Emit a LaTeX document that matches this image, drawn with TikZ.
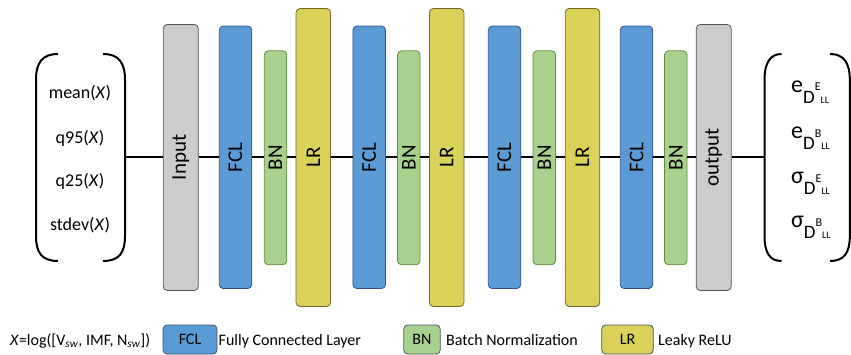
\documentclass[tikz,border=0pt]{standalone}
\usepackage{fontspec}
\setmainfont{Carlito}
\definecolor{iofill}{HTML}{CCCCCC}
\definecolor{ioline}{HTML}{555555}
\definecolor{fclfill}{HTML}{5B9BD5}
\definecolor{fclline}{HTML}{2F528F}
\definecolor{bnfill}{HTML}{A9D18E}
\definecolor{bnline}{HTML}{5E8C45}
\definecolor{lrfill}{HTML}{D9D158}
\definecolor{lrline}{HTML}{6F6A2C}
\definecolor{keyline}{HTML}{44546A}
% output label: symbol with subscript D^{sup} followed by LL
\newcommand\outsym[2]{{\fontsize{24}{24}\selectfont #1}\raisebox{-10.6pt}{\fontsize{19}{19}\selectfont D\raisebox{12.3pt}{\fontsize{12}{12}\selectfont #2}\fontsize{10}{10}\selectfont LL}}
\begin{document}
\begin{tikzpicture}[x=1pt,y=-1pt,
  layer/.style={draw, rounded corners=4pt, line width=0.8pt, inner sep=0pt,
    font=\fontsize{21}{21}\selectfont},
  iobox/.style={layer, fill=iofill, draw=ioline, minimum width=35pt, minimum height=266pt},
  fclbox/.style={layer, fill=fclfill, draw=fclline, minimum width=32.5pt, minimum height=262.5pt},
  bnbox/.style={layer, fill=bnfill, draw=bnline, minimum width=22.5pt, minimum height=214pt},
  lrbox/.style={layer, fill=lrfill, draw=lrline, minimum width=34.5pt, minimum height=298pt},
  link/.style={line width=2pt},
  brk/.style={line width=2pt},
  feat/.style={inner sep=0pt, font=\fontsize{18}{18}\selectfont},
  outl/.style={inner sep=0pt, anchor=base west},
  keybox/.style={draw=keyline, rounded corners=4pt, line width=0.8pt, inner sep=0pt,
    minimum height=29pt, font=\fontsize{16}{16}\selectfont},
  keytext/.style={inner sep=0pt, anchor=base west, font=\fontsize{16}{16}\selectfont}]
\useasboundingbox (0,0) rectangle (851,355);

% input statistics in parentheses
\draw[brk] (58,54) .. controls (42,54) and (36,63) .. (36,80) -- (36,236)
  .. controls (36,253) and (42,261) .. (58,261);
\draw[brk] (103,54) .. controls (119,54) and (125,63) .. (125,80) -- (125,236)
  .. controls (125,253) and (119,261) .. (103,261);
\node[feat] (f1) at (80,93) {mean(\textit{X})};
\node[feat] (f2) at (80,138) {q95(\textit{X})};
\node[feat] (f3) at (80,181.5) {q25(\textit{X})};
\node[feat] (f4) at (80,225) {stdev(\textit{X})};
\coordinate (lb) at (125,157);

% output quantities in parentheses
\draw[brk] (781.5,54) .. controls (770,54) and (764.5,63) .. (764.5,80) -- (764.5,236)
  .. controls (764.5,253) and (770,261) .. (781.5,261);
\draw[brk] (830,54) .. controls (844,54) and (849.8,63) .. (849.8,80) -- (849.8,236)
  .. controls (849.8,253) and (844,261) .. (830,261);
\node[outl] (o1) at (791,92.7) {\outsym{e}{E}};
\node[outl] (o2) at (791,139) {\outsym{e}{B}};
\node[outl] (o3) at (791,184) {\outsym{σ}{E}};
\node[outl] (o4) at (791,228) {\outsym{σ}{B}};
\coordinate (rb) at (764.5,157);

% network layers
\node[iobox]  (in)   at (180.8,157.5) {\rotatebox{90}{Input}};
\node[fclbox] (fcl1) at (235.5,157.3) {\rotatebox{90}{FCL}};
\node[bnbox]  (bn1)  at (275.5,157.8) {\rotatebox{90}{BN}};
\node[lrbox]  (lr1)  at (313.3,157.5) {\rotatebox{90}{LR}};
\node[fclbox] (fcl2) at (369.2,157.3) {\rotatebox{90}{FCL}};
\node[bnbox]  (bn2)  at (408.8,157.8) {\rotatebox{90}{BN}};
\node[lrbox]  (lr2)  at (446.7,157.5) {\rotatebox{90}{LR}};
\node[fclbox] (fcl3) at (504.5,157.3) {\rotatebox{90}{FCL}};
\node[bnbox]  (bn3)  at (544.3,157.8) {\rotatebox{90}{BN}};
\node[lrbox]  (lr3)  at (582.5,157.5) {\rotatebox{90}{LR}};
\node[fclbox] (fcl4) at (636.5,157.3) {\rotatebox{90}{FCL}};
\node[bnbox]  (bn4)  at (675.8,157.8) {\rotatebox{90}{BN}};
\node[iobox]  (out)  at (713.7,157.5) {\rotatebox{90}{output}};

% connections along the chain
\draw[link] (lb) -- (lb -| in.west);
\draw[link] (in.east |- lb) -- (fcl1.west |- lb);
\draw[link] (fcl1.east |- lb) -- (bn1.west |- lb);
\draw[link] (bn1.east |- lb) -- (lr1.west |- lb);
\draw[link] (lr1.east |- lb) -- (fcl2.west |- lb);
\draw[link] (fcl2.east |- lb) -- (bn2.west |- lb);
\draw[link] (bn2.east |- lb) -- (lr2.west |- lb);
\draw[link] (lr2.east |- lb) -- (fcl3.west |- lb);
\draw[link] (fcl3.east |- lb) -- (bn3.west |- lb);
\draw[link] (bn3.east |- lb) -- (lr3.west |- lb);
\draw[link] (lr3.east |- lb) -- (fcl4.west |- lb);
\draw[link] (fcl4.east |- lb) -- (bn4.west |- lb);
\draw[link] (bn4.east |- lb) -- (out.west |- lb);
\draw[link] (out.east |- rb) -- (rb);

% legend
\node[keytext] (xdef) at (10,345) {\textit{X}=log([V\textsubscript{\textit{sw}}, IMF, N\textsubscript{\textit{sw}}])};
\node[keybox, fill=fclfill, minimum width=54pt] (kfcl) at (190,339.5) {FCL};
\node[keytext] (tfcl) at (218.5,345) {Fully Connected Layer};
\node[keybox, fill=bnfill, minimum width=36.5pt] (kbn) at (422,339.5) {BN};
\node[keytext] (tbn) at (446,345) {Batch Normalization};
\node[keybox, fill=lrfill, minimum width=51.5pt] (klr) at (627.5,339.5) {LR};
\node[keytext] (tlr) at (658,345) {Leaky ReLU};
\end{tikzpicture}
\end{document}
